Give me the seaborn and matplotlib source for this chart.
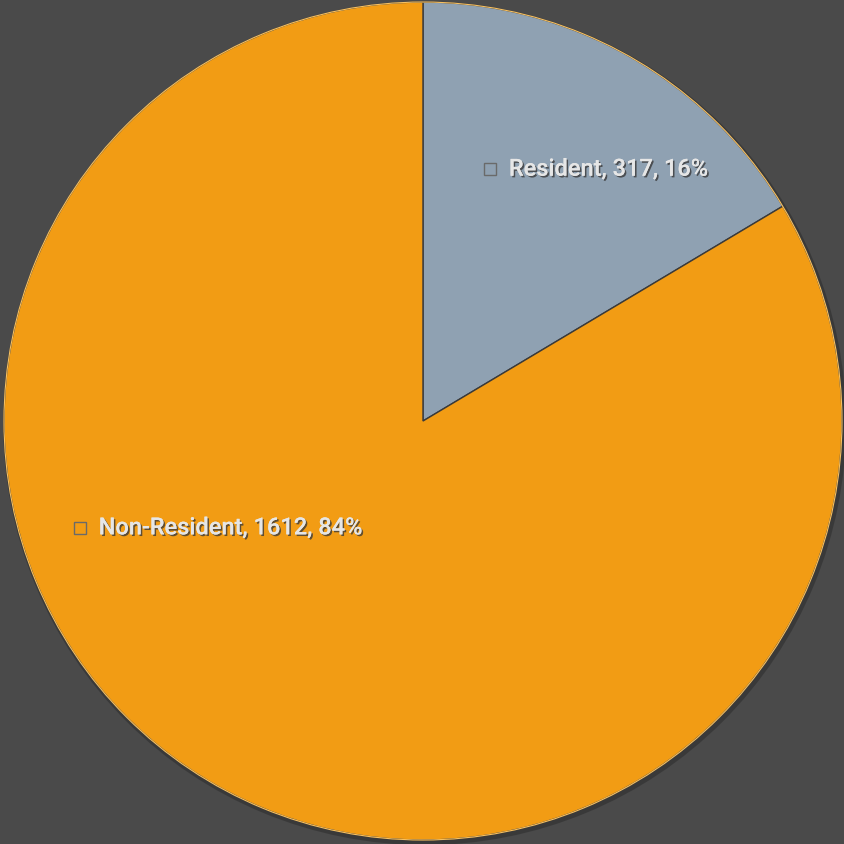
import matplotlib
matplotlib.use("Agg")
import matplotlib.pyplot as plt
import matplotlib.patheffects as pe
from matplotlib.patches import Rectangle
import seaborn as sns

categories = ["Resident", "Non-Resident"]
values = [317, 1612]
percents = ["16%", "84%"]
colors = ["#8FA1B2", "#F29C14"]

sns.set_theme(style="white")
plt.rcParams['font.family'] = ['Roboto', 'Liberation Sans', 'DejaVu Sans']

fig = plt.figure(figsize=(8.44, 8.44), dpi=100)
fig.patch.set_facecolor("#4a4a4a")
ax = fig.add_axes([0, 0, 1, 1])
ax.set_facecolor("#4a4a4a")
pal = sns.color_palette(colors)

# shadow
ax.pie([1], radius=1.006, colors=["#2f2f2f"], startangle=90, center=(0.004, -0.006),
       wedgeprops=dict(linewidth=0, alpha=0.6))
wedges, _ = ax.pie(values, colors=pal, startangle=90, counterclock=False,
                   wedgeprops=dict(edgecolor="#3a3a3a", linewidth=1.0))
# light outer rim
ax.pie([1], radius=1.0, colors=["none"], startangle=90,
       wedgeprops=dict(edgecolor="#f7c060", linewidth=0.8, fill=False))
ax.set_xlim(-1.0095, 1.0048)
ax.set_ylim(-1.0095, 1.0048)
ax.set_aspect("equal")
ax.axis("off")

label_pos = [(0.16, 0.601), (-0.819, -0.255)]
for (x, y), cat, v, p, c in zip(label_pos, categories, values, percents, colors):
    s = 0.028
    ax.add_patch(Rectangle((x - s / 2, y - s / 2), s, s, facecolor=c,
                           edgecolor="#6a6a6a", linewidth=1.0, zorder=5))
    ax.text(x + 0.045, y, f"{cat}, {v}, {p}", fontsize=17, fontweight="medium",
            color="#e6e6e6", va="center", ha="left", zorder=6,
            path_effects=[pe.withSimplePatchShadow(offset=(1.2, -1.2), shadow_rgbFace="#3a3a3a", alpha=0.8),
                          pe.Normal()])

fig.savefig("out.png", dpi=100, facecolor=fig.get_facecolor())
